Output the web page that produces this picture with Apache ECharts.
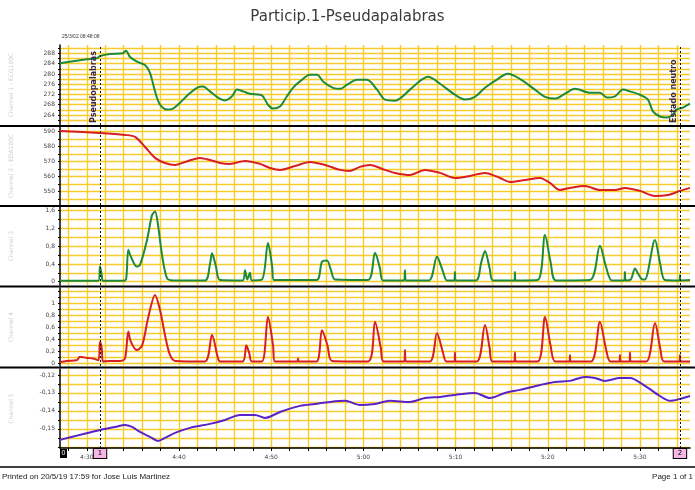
<!DOCTYPE html>
<html>
<head>
<meta charset="utf-8">
<script src="https://cdn.jsdelivr.net/npm/echarts@6/dist/echarts.min.js"></script>
<style>
  html, body { margin: 0; padding: 0; background: #fff; }
  #chart { width: 695px; height: 490px; }
</style>
</head>
<body>
<div id="chart"></div>
<script>
// time in minutes after 4:00
const timeRange = [27.09, 95.43];
const timeGridTicks = [28, 30, 32, 34, 36, 38, 40, 42, 44, 46, 48, 50, 52, 54, 56, 58, 60, 62, 64, 66, 68, 70, 72, 74, 76, 78, 80, 82, 84, 86, 88, 90, 92, 94];
const timeLabels = [30, 40, 50, 60, 70, 80, 90];

const events = [
  { t: 31.43, name: '1', note: 'Pseudopalabras' },
  { t: 94.34, name: '2', note: 'Estado neutro' },
];

const ch1 = [[27.09, 284.2], [28.90, 285.2], [29.99, 285.7], [31.07, 286.1], [31.43, 287.0], [32.52, 287.8], [33.93, 288.1], [34.25, 289.1], [34.69, 286.6], [35.44, 284.8], [36.31, 283.5], [36.85, 280.4], [37.40, 273.2], [37.94, 268.0], [38.70, 266.1], [39.35, 266.5], [40.11, 268.8], [40.98, 271.9], [41.95, 274.6], [42.60, 275.1], [43.36, 273.2], [44.23, 270.8], [44.99, 269.7], [45.75, 271.3], [46.29, 273.9], [46.94, 273.2], [47.70, 272.3], [48.79, 271.9], [49.11, 271.3], [49.65, 268.0], [50.20, 266.5], [50.95, 267.3], [51.71, 271.3], [52.36, 274.6], [53.12, 277.1], [54.21, 279.7], [54.97, 279.7], [55.62, 277.1], [56.70, 274.6], [57.46, 274.2], [58.22, 275.8], [59.31, 277.7], [60.39, 277.7], [61.48, 273.9], [62.34, 270.0], [63.43, 269.6], [65.05, 273.9], [66.14, 277.3], [67.01, 278.9], [68.31, 276.2], [69.93, 271.9], [71.02, 270.0], [72.10, 271.1], [73.19, 274.6], [74.27, 277.3], [75.68, 280.1], [76.98, 278.1], [78.61, 273.9], [79.70, 271.1], [80.78, 270.4], [81.87, 272.3], [82.95, 274.2], [84.58, 272.7], [85.66, 272.7], [86.42, 270.8], [87.29, 271.3], [88.16, 273.9], [88.92, 273.2], [90.00, 271.9], [90.87, 270.0], [91.41, 265.4], [92.17, 263.4], [92.93, 263.0], [93.47, 263.8], [94.01, 266.1], [94.66, 266.9], [95.43, 268.4]];

const ch2 = [[27.09, 590.5], [31.43, 589.1], [34.14, 587.8], [35.23, 586.5], [36.31, 579.8], [37.40, 572.5], [38.48, 569.1], [39.57, 567.8], [40.65, 569.8], [42.28, 572.5], [43.36, 571.1], [44.45, 569.1], [45.53, 568.5], [47.16, 570.5], [48.79, 568.5], [49.87, 565.8], [50.95, 564.5], [52.58, 567.1], [54.21, 569.8], [55.84, 567.8], [57.46, 564.5], [58.55, 563.8], [59.63, 566.5], [60.72, 567.8], [62.34, 564.5], [63.43, 562.5], [65.05, 561.1], [66.68, 564.5], [68.31, 562.5], [69.93, 559.1], [71.56, 560.5], [73.19, 562.5], [74.82, 559.1], [75.90, 556.5], [77.53, 557.8], [79.15, 559.1], [80.24, 555.8], [81.32, 551.1], [82.41, 552.5], [84.03, 553.8], [85.66, 551.1], [87.29, 551.1], [88.37, 552.5], [90.00, 550.5], [91.63, 547.1], [93.04, 547.8], [94.34, 550.5], [95.43, 552.5]];

const ch3 = [[27.09, 0.02], [31.25, 0.02], [31.43, 0.35], [31.62, 0.15], [31.76, 0.02], [34.14, 0.03], [34.30, 0.12], [34.50, 0.72], [34.77, 0.57], [35.41, 0.34], [35.77, 0.38], [36.53, 0.94], [37.07, 1.50], [37.40, 1.58], [37.72, 1.28], [38.16, 0.60], [38.70, 0.08], [39.35, 0.03], [42.82, 0.03], [43.36, 0.40], [43.58, 0.64], [44.00, 0.35], [44.45, 0.04], [46.90, 0.03], [47.16, 0.26], [47.40, 0.05], [47.70, 0.20], [47.90, 0.03], [49.00, 0.05], [49.65, 0.87], [50.10, 0.35], [50.30, 0.04], [54.90, 0.04], [55.51, 0.45], [56.05, 0.48], [56.50, 0.25], [56.92, 0.05], [60.50, 0.04], [61.26, 0.65], [61.80, 0.30], [62.13, 0.03], [64.40, 0.03], [64.51, 0.26], [64.60, 0.03], [67.10, 0.03], [67.98, 0.56], [68.60, 0.25], [69.07, 0.03], [69.85, 0.03], [69.93, 0.22], [70.00, 0.03], [72.21, 0.03], [72.80, 0.45], [73.19, 0.69], [73.70, 0.30], [74.06, 0.03], [76.40, 0.03], [76.44, 0.22], [76.50, 0.03], [78.90, 0.04], [79.70, 1.05], [80.30, 0.45], [80.89, 0.03], [84.58, 0.04], [85.66, 0.81], [86.30, 0.35], [86.96, 0.03], [88.30, 0.03], [88.37, 0.22], [88.45, 0.03], [89.00, 0.05], [89.46, 0.30], [89.80, 0.18], [90.30, 0.05], [90.54, 0.05], [91.63, 0.94], [92.20, 0.40], [92.71, 0.04], [94.30, 0.03], [94.34, 0.15], [94.40, 0.03], [95.43, 0.04]];

const ch4 = [[27.09, 0.02], [27.82, 0.04], [28.90, 0.05], [29.26, 0.11], [29.99, 0.09], [30.67, 0.08], [31.25, 0.05], [31.43, 0.36], [31.62, 0.25], [31.76, 0.03], [32.52, 0.04], [33.60, 0.04], [34.14, 0.08], [34.50, 0.53], [34.77, 0.36], [35.41, 0.22], [36.00, 0.30], [36.64, 0.75], [37.40, 1.14], [37.94, 0.89], [38.48, 0.47], [39.02, 0.14], [39.60, 0.04], [42.80, 0.03], [43.58, 0.47], [44.20, 0.10], [44.45, 0.03], [46.90, 0.03], [47.30, 0.30], [47.60, 0.18], [47.90, 0.03], [49.00, 0.03], [49.65, 0.77], [50.20, 0.30], [50.40, 0.03], [52.85, 0.03], [52.91, 0.08], [52.97, 0.03], [54.90, 0.03], [55.51, 0.55], [56.10, 0.30], [56.60, 0.04], [60.50, 0.03], [61.26, 0.69], [61.90, 0.25], [62.20, 0.03], [64.45, 0.03], [64.51, 0.22], [64.60, 0.03], [67.20, 0.03], [67.98, 0.50], [68.60, 0.20], [69.00, 0.03], [69.90, 0.03], [69.93, 0.18], [70.00, 0.03], [72.30, 0.03], [73.19, 0.64], [73.70, 0.25], [74.00, 0.03], [76.38, 0.03], [76.44, 0.18], [76.50, 0.03], [78.90, 0.03], [79.70, 0.77], [80.30, 0.30], [80.80, 0.03], [82.36, 0.03], [82.41, 0.14], [82.47, 0.03], [84.70, 0.03], [85.66, 0.69], [86.30, 0.25], [86.80, 0.03], [87.78, 0.03], [87.83, 0.14], [87.88, 0.03], [88.86, 0.03], [88.92, 0.18], [88.98, 0.03], [90.70, 0.03], [91.63, 0.67], [92.20, 0.25], [92.60, 0.03], [94.29, 0.03], [94.34, 0.14], [94.40, 0.03], [95.43, 0.03]];

const ch5 = [[27.09, -0.1561], [29.26, -0.1533], [31.43, -0.1506], [33.06, -0.1489], [34.14, -0.1478], [34.90, -0.1489], [35.77, -0.1517], [36.85, -0.1544], [37.72, -0.1567], [38.48, -0.1550], [39.57, -0.1522], [41.19, -0.1494], [43.36, -0.1472], [44.99, -0.1450], [46.62, -0.1422], [48.24, -0.1422], [49.33, -0.1439], [50.95, -0.1406], [53.12, -0.1372], [54.75, -0.1361], [56.38, -0.1350], [58.00, -0.1344], [59.63, -0.1367], [61.26, -0.1361], [62.88, -0.1344], [65.05, -0.1350], [66.68, -0.1328], [68.31, -0.1322], [69.93, -0.1311], [72.10, -0.1300], [73.73, -0.1328], [75.36, -0.1300], [76.98, -0.1283], [79.15, -0.1256], [80.78, -0.1239], [82.41, -0.1233], [84.03, -0.1211], [85.12, -0.1217], [86.20, -0.1233], [87.83, -0.1217], [88.92, -0.1217], [90.54, -0.1261], [92.17, -0.1317], [93.25, -0.1344], [94.34, -0.1333], [95.43, -0.1317]];

const panels = [
  { name: 'Channel 1 - ECG100C', data: ch1, color: '#1d8a3a', top: 45, height: 80, min: 260.1, max: 291.3,
    grid: [262, 264, 266, 268, 270, 272, 274, 276, 278, 280, 282, 284, 286, 288, 290], labels: [264, 268, 272, 276, 280, 284, 288], dec: 0 },
  { name: 'Channel 2 - EDA100C', data: ch2, color: '#d81e1e', top: 127, height: 78, min: 541.1, max: 593.1,
    grid: [545, 550, 555, 560, 565, 570, 575, 580, 585, 590], labels: [550, 560, 570, 580, 590], dec: 0 },
  { name: 'Channel 3', data: ch3, color: '#1d8a3a', top: 207, height: 78, min: -0.074, max: 1.683,
    grid: [0, 0.2, 0.4, 0.6, 0.8, 1, 1.2, 1.4, 1.6], labels: [0, 0.4, 0.8, 1.2, 1.6], dec: 1 },
  { name: 'Channel 4', data: ch4, color: '#d81e1e', top: 288, height: 78, min: -0.045, max: 1.255,
    grid: [0, 0.1, 0.2, 0.3, 0.4, 0.5, 0.6, 0.7, 0.8, 0.9, 1, 1.1, 1.2], labels: [0, 0.2, 0.4, 0.6, 0.8, 1], dec: 1 },
  { name: 'Channel 5', data: ch5, color: '#5a22c8', top: 369, height: 79, min: -0.1606, max: -0.1167,
    grid: [-0.16, -0.155, -0.15, -0.145, -0.14, -0.135, -0.13, -0.125, -0.12], labels: [-0.15, -0.14, -0.13, -0.12], dec: 2 },
];

const gold = '#f7cb2a';
const fmtNum = (v, dec) => {
  if (Math.abs(v) < 1e-9) return '0';
  let s = v.toFixed(dec);
  if (dec > 0) s = s.replace(/\.?0+$/, '');
  return s.replace('.', ',');
};
const fmtTime = (v) => {
  const h = 4 + Math.floor(v / 60);
  const m = Math.round(v % 60);
  return h + ':' + String(m).padStart(2, '0');
};

const chart = echarts.init(document.getElementById('chart'));
const last = panels.length - 1;

const option = {
  animation: false,
  textStyle: { fontFamily: 'DejaVu Sans' },
  title: {
    text: 'Particip.1-Pseudapalabras',
    left: 'center', top: 5,
    textStyle: { fontSize: 15, fontWeight: 'normal', color: '#3a3a3a' },
  },
  grid: panels.map(p => ({ left: 60, right: 5, top: p.top, height: p.height })),
  xAxis: panels.map((p, i) => ({
    type: 'value', gridIndex: i, min: timeRange[0], max: timeRange[1],
    axisLine: { show: i === last, lineStyle: { color: '#000', width: 1.5 } },
    axisTick: { show: i === last, customValues: timeGridTicks, length: 3, lineStyle: { color: '#000' } },
    axisLabel: { show: i === last, customValues: timeLabels, formatter: fmtTime, fontSize: 6, color: '#444', margin: 6 },
    splitLine: { show: true, lineStyle: { color: gold, width: 1.4 } },
  })),
  yAxis: panels.map((p, i) => ({
    type: 'value', gridIndex: i, min: p.min, max: p.max,
    name: p.name, nameLocation: 'middle', nameRotate: 90, nameGap: 46,
    nameTextStyle: { fontSize: 6, color: '#cfcfcf' },
    axisLine: { show: true, lineStyle: { color: '#000', width: 1.5 } },
    axisTick: { show: true, customValues: p.grid, length: 2, lineStyle: { color: '#000' } },
    axisLabel: { customValues: p.labels, formatter: v => fmtNum(v, p.dec), fontSize: 6, color: '#444', margin: 5 },
    splitLine: { show: true, lineStyle: { color: gold, width: 1.4 } },
  })),
  series: panels.map((p, i) => ({
    type: 'line', xAxisIndex: i, yAxisIndex: i, data: p.data,
    showSymbol: false, smooth: 0.3,
    lineStyle: { color: p.color, width: 2 },
    markLine: {
      silent: true, symbol: ['none', 'none'],
      lineStyle: { color: '#111', type: [2, 2], width: 1 },
      data: events.map(ev => [
        {
          coord: [ev.t, p.min],
          label: i === 0
            ? { show: true, position: 'insideStartTop', formatter: ev.note, fontSize: 8, fontWeight: 'bold', color: '#3a2848', distance: 2 }
            : i === last
              ? { show: true, position: 'start', formatter: ev.name, fontSize: 7, color: '#000', backgroundColor: '#f4b6e6', borderColor: '#000', borderWidth: 1, padding: [1, 4], distance: 1 }
              : { show: false },
        },
        { coord: [ev.t, p.max] },
      ]),
    },
  })),
  graphic: [
    // channel separators
    ...[126, 206, 286.5, 367.5].map(y => ({
      type: 'line', shape: { x1: 0, y1: y, x2: 695, y2: y },
      style: { stroke: '#000', lineWidth: 2 }, z: 10,
    })),
    { type: 'line', shape: { x1: 0, y1: 467, x2: 695, y2: 467 }, style: { stroke: '#000', lineWidth: 1.5 } },
    { type: 'text', left: 62, top: 34, style: { text: '25/3/02 08:48:08', fontSize: 5, fill: '#333' } },
    { type: 'rect', shape: { x: 60, y: 449, width: 7, height: 9 }, style: { fill: '#000' } },
    { type: 'text', left: 61.5, top: 449.5, style: { text: '0', fontSize: 7, fill: '#fff' }, z: 11 },
    { type: 'text', left: 2, top: 473, style: { text: 'Printed on 20/5/19 17:59 for Jose Luis Martinez', fontSize: 8, fill: '#222' } },
    { type: 'text', right: 2, top: 473, style: { text: 'Page 1 of 1', fontSize: 8, fill: '#222' } },
  ],
};

chart.setOption(option);
</script>
</body>
</html>
